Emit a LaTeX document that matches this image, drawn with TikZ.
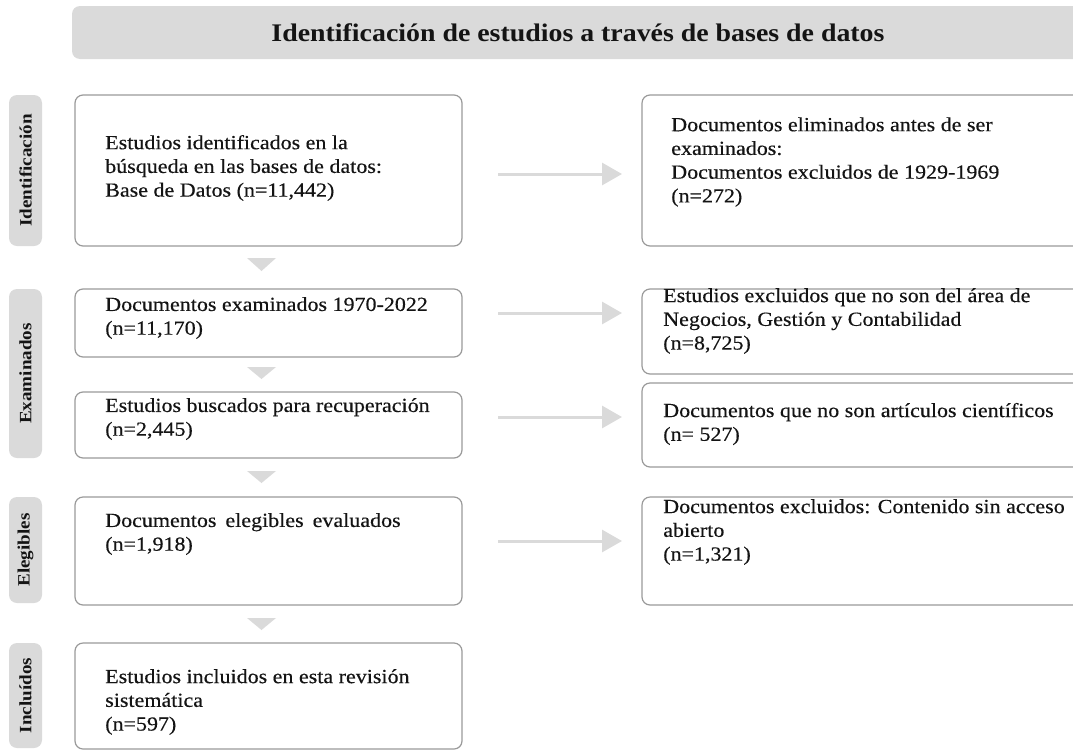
\documentclass[tikz,border=0pt]{standalone}
\usepackage{fontspec}
\setmainfont{Liberation Serif}[FakeStretch=1.1, UprightFeatures={FakeBold=0.35}]
\usetikzlibrary{fit,arrows.meta}
\definecolor{boxline}{HTML}{9A9A9A}
\definecolor{lightg}{HTML}{DADADA}
\definecolor{ink}{HTML}{141414}
\tikzset{
  box/.style={draw=boxline, line width=0.9pt, rounded corners=6pt, inner sep=0pt, fill=white},
  lab/.style={fill=lightg, rounded corners=6pt, inner sep=0pt},
  txt/.style={anchor=west, align=left, inner sep=0pt, text=ink, font=\fontsize{15}{17.8}\selectfont},
  labtxt/.style={rotate=90, inner sep=0pt, text=ink, font=\bfseries\fontsize{13}{15}\selectfont},
  harrow/.style={draw=lightg, line width=2.25pt, -{Triangle[length=15pt,width=16.5pt]}},
  tri/.style={fill=lightg},
}
\begin{document}
\begin{tikzpicture}[x=0.75pt,y=-0.75pt]
\useasboundingbox (0,0) rectangle (1073,750);
\clip (0,0) rectangle (1073,750);
% header
\node[lab, fit={(72,6)(1100,59)}] (hdr) {};
\node[inner sep=0pt, text=ink, font=\bfseries\fontsize{19}{22}\selectfont] (title) at (578,33) {Identificación de estudios a través de bases de datos};
% stage labels
\node[lab, fit={(9,95)(42,246)}] (k1) {};
\node[labtxt] (k1t) at (k1.center) {Identificación};
\node[lab, fit={(9,289)(42,458)}] (k2) {};
\node[labtxt] (k2t) at (k2.center) {Examinados};
\node[lab, fit={(9,497)(42,603)}] (k3) {};
\node[labtxt] (k3t) at (k3.center) {Elegibles};
\node[lab, fit={(9,643)(42,748)}] (k4) {};
\node[labtxt] (k4t) at (k4.center) {Incluídos};
% left boxes
\node[box, fit={(75,95)(462,246)}] (l1) {};
\node[txt] (l1t) at (105,168) {Estudios identificados en la\\búsqueda en las bases de datos:\\Base de Datos (n=11,442)};
\node[box, fit={(75,289)(462,357)}] (l2) {};
\node[txt] (l2t) at (105,318) {Documentos examinados 1970-2022\\(n=11,170)};
\node[box, fit={(75,392)(462,458)}] (l3) {};
\node[txt] (l3t) at (105,419) {Estudios buscados para recuperación\\(n=2,445)};
\node[box, fit={(75,497)(462,605)}] (l4) {};
\node[txt] (l4t) at (105,534) {Documentos\hspace{0.45em}elegibles\hspace{0.45em}evaluados\\(n=1,918)};
\node[box, fit={(75,643)(462,749)}] (l5) {};
\node[txt] (l5t) at (105,702) {Estudios incluidos en esta revisión\\sistemática\\(n=597)};
% right boxes
\node[box, fit={(642,95)(1090,246)}] (r1) {};
\node[txt] (r1t) at (671,162) {Documentos eliminados antes de ser\\examinados:\\Documentos excluidos de 1929-1969\\(n=272)};
\node[box, fit={(642,289)(1090,374)}] (r2) {};
\node[txt] (r2t) at (663,321) {Estudios excluidos que no son del área de\\Negocios, Gestión y Contabilidad\\(n=8,725)};
\node[box, fit={(642,383)(1090,467)}] (r3) {};
\node[txt] (r3t) at (663,424) {Documentos que no son artículos científicos\\(n= 527)};
\node[box, fit={(642,497)(1090,605)}] (r4) {};
\node[txt] (r4t) at (663,532) {Documentos excluidos: Contenido sin acceso\\abierto\\(n=1,321)};
% horizontal arrows
\coordinate (a1s) at (498,174); \coordinate (a1e) at (622,174);
\coordinate (a2s) at (498,313); \coordinate (a2e) at (622,313);
\coordinate (a3s) at (498,417); \coordinate (a3e) at (622,417);
\coordinate (a4s) at (498,541); \coordinate (a4e) at (622,541);
\draw[harrow] (a1s) -- (a1e);
\draw[harrow] (a2s) -- (a2e);
\draw[harrow] (a3s) -- (a3e);
\draw[harrow] (a4s) -- (a4e);
% down triangles
\fill[tri] (247,258) -- (276,258) -- (261.5,271) -- cycle;
\fill[tri] (247,367) -- (276,367) -- (261.5,379) -- cycle;
\fill[tri] (247,471) -- (276,471) -- (261.5,483) -- cycle;
\fill[tri] (247,618) -- (276,618) -- (261.5,630) -- cycle;
\end{tikzpicture}
\end{document}
